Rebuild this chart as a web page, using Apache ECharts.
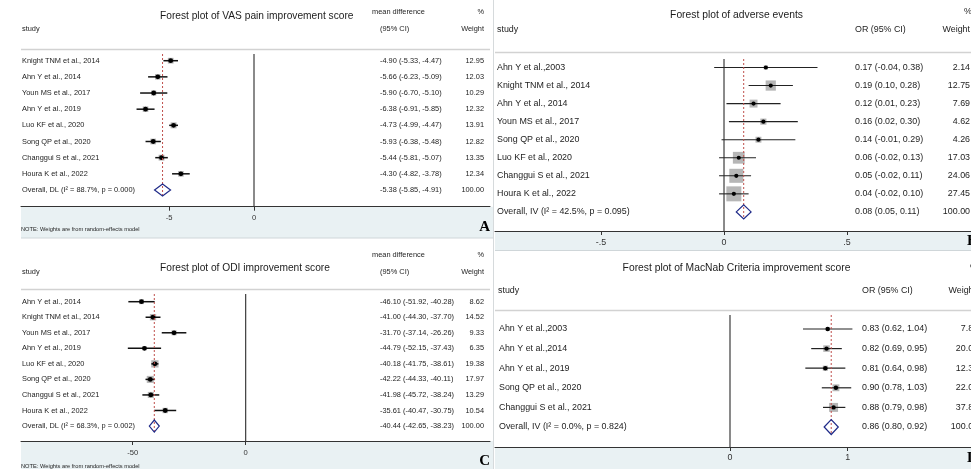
<!DOCTYPE html>
<html>
<head>
<meta charset="utf-8">
<script src="https://cdn.jsdelivr.net/npm/echarts@6/dist/echarts.min.js"></script>
<style>
  html, body { margin: 0; padding: 0; background: #ffffff; }
  #chart { width: 971px; height: 469px; }
</style>
</head>
<body>
<div id="chart"></div>
<script>
// ---- VAS pain improvement score (mean difference, random effects) ----
const vasStudies = ["Knight TNM et al., 2014", "Ahn Y et al., 2014", "Youn MS et al., 2017", "Ahn Y et al., 2019",
                    "Luo KF et al., 2020", "Song QP et al., 2020", "Changgui S et al., 2021", "Houra K et al., 2022"];
const vasMean   = [-4.90, -5.66, -5.90, -6.38, -4.73, -5.93, -5.44, -4.30];
const vasLower  = [-5.33, -6.23, -6.70, -6.91, -4.99, -6.38, -5.81, -4.82];
const vasUpper  = [-4.47, -5.09, -5.10, -5.85, -4.47, -5.48, -5.07, -3.78];
const vasWeight = [12.95, 12.03, 10.29, 12.32, 13.91, 12.82, 13.35, 12.34];
const vasPooled = [-5.38, -5.85, -4.91, 100.00];
const vasPooledLabel = "Overall, DL (I² = 88.7%, p = 0.000)";
const vasTicks = [-5, 0];

// ---- Adverse events (OR, fixed effects) ----
const aeStudies = ["Ahn Y et al.,2003", "Knight TNM et al., 2014", "Ahn Y et al., 2014", "Youn MS et al., 2017",
                   "Song QP et al., 2020", "Luo KF et al., 2020", "Changgui S et al., 2021", "Houra K et al., 2022"];
const aeOR     = [0.17, 0.19, 0.12, 0.16, 0.14, 0.06, 0.05, 0.04];
const aeLower  = [-0.04, 0.10, 0.01, 0.02, -0.01, -0.02, -0.02, -0.02];
const aeUpper  = [0.38, 0.28, 0.23, 0.30, 0.29, 0.13, 0.11, 0.10];
const aeWeight = [2.14, 12.75, 7.69, 4.62, 4.26, 17.03, 24.06, 27.45];
const aePooled = [0.08, 0.05, 0.11, 100.00];
const aePooledLabel = "Overall, IV (I² = 42.5%, p = 0.095)";
const aeTicks = [-0.5, 0, 0.5];

// ---- ODI improvement score (mean difference, random effects) ----
const odiStudies = ["Ahn Y et al., 2014", "Knight TNM et al., 2014", "Youn MS et al., 2017", "Ahn Y et al., 2019",
                    "Luo KF et al., 2020", "Song QP et al., 2020", "Changgui S et al., 2021", "Houra K et al., 2022"];
const odiMean   = [-46.10, -41.00, -31.70, -44.79, -40.18, -42.22, -41.98, -35.61];
const odiLower  = [-51.92, -44.30, -37.14, -52.15, -41.75, -44.33, -45.72, -40.47];
const odiUpper  = [-40.28, -37.70, -26.26, -37.43, -38.61, -40.11, -38.24, -30.75];
const odiWeight = [8.62, 14.52, 9.33, 6.35, 19.38, 17.97, 13.29, 10.54];
const odiPooled = [-40.44, -42.65, -38.23, 100.00];
const odiPooledLabel = "Overall, DL (I² = 68.3%, p = 0.002)";
const odiTicks = [-50, 0];

// ---- MacNab criteria improvement score (OR, fixed effects) ----
const macStudies = ["Ahn Y et al.,2003", "Ahn Y et al.,2014", "Ahn Y et al., 2019", "Song QP et al., 2020", "Changgui S et al., 2021"];
const macOR     = [0.83, 0.82, 0.81, 0.90, 0.88];
const macLower  = [0.62, 0.69, 0.64, 0.78, 0.79];
const macUpper  = [1.04, 0.95, 0.98, 1.03, 0.98];
const macWeight = [7.84, 20.03, 12.31, 22.02, 37.80];
const macPooled = [0.86, 0.80, 0.92, 100.00];
const macPooledLabel = "Overall, IV (I² = 0.0%, p = 0.824)";
const macTicks = [0, 1];

const SANS = '"Liberation Sans", Arial, Helvetica, sans-serif';
const SERIF = '"Liberation Serif", "Times New Roman", serif';
const INK = '#1c1c1c';

// Layout of the four panels (pixel geometry and styling only)
const panels = [
  { studies: vasStudies, est: vasMean, lo: vasLower, hi: vasUpper, w: vasWeight, pooled: vasPooled,
    pooledLabel: vasPooledLabel, ticks: vasTicks,
    grid: { left: 21, top: 54, width: 469, height: 152.7 }, xr: [-13.706, 13.882], yr: [-0.415, 9.035],
    font: 7.4, cols: { name: 22, ci: 380, w: 484 }, boxK: 1.6, dotR: 2.4, ciW: 1.5, ciColor: '#111',
    diamondH: 12, labelMargin: 7, tickFont: 7.6 },
  { studies: aeStudies, est: aeOR, lo: aeLower, hi: aeUpper, w: aeWeight, pooled: aePooled,
    pooledLabel: aePooledLabel, ticks: aeTicks,
    grid: { left: 495, top: 59, width: 476, height: 172 }, xr: [-0.9309, 1.004], yr: [-0.471, 9.058],
    font: 8.9, cols: { name: 497, ci: 855, w: 970 }, boxK: 2.86, dotR: 2.1, ciW: 1.1, ciColor: '#222',
    diamondH: 14, labelMargin: 7, tickFont: 8.9 },
  { studies: odiStudies, est: odiMean, lo: odiLower, hi: odiUpper, w: odiWeight, pooled: odiPooled,
    pooledLabel: odiPooledLabel, ticks: odiTicks,
    grid: { left: 21, top: 294, width: 469, height: 147 }, xr: [-99.42, 108.1], yr: [-0.4955, 8.964],
    font: 7.4, cols: { name: 22, ci: 380, w: 484 }, boxK: 1.66, dotR: 2.4, ciW: 1.5, ciColor: '#111',
    diamondH: 12, labelMargin: 8, tickFont: 7.6 },
  { studies: macStudies, est: macOR, lo: macLower, hi: macUpper, w: macWeight, pooled: macPooled,
    pooledLabel: macPooledLabel, ticks: macTicks,
    grid: { left: 495, top: 315, width: 476, height: 132 }, xr: [-1.9966, 2.0476], yr: [-0.714, 6.02],
    font: 8.9, cols: { name: 499, ci: 862, w: 978 }, boxK: 1.46, dotR: 2.2, ciW: 1.2, ciColor: '#222',
    diamondH: 15, labelMargin: 6.5, tickFont: 8.9 }
];

function fmtTick(v) {
  const s = String(v);
  return s.replace(/^(-?)0\./, '$1.');
}
function ciText(e, l, h) {
  return e.toFixed(2) + ' (' + l.toFixed(2) + ', ' + h.toFixed(2) + ')';
}

function makeRenderer(p) {
  const n = p.studies.length;
  return function (params, api) {
    const i = params.dataIndex;
    const est = api.value(0), row = api.value(1), lo = api.value(2), hi = api.value(3), wt = api.value(4);
    const c = api.coord([est, row]);
    const y = c[1];
    const xl = api.coord([lo, row])[0];
    const xh = api.coord([hi, row])[0];
    const font = { fontSize: p.font, fontFamily: SANS };
    const text = (t, x, align) => ({
      type: 'text', x: x, y: y,
      style: Object.assign({ text: t, fill: INK, align: align, verticalAlign: 'middle' }, font)
    });
    const children = [];
    if (i < n) {
      const s = p.boxK * Math.sqrt(wt);
      children.push({ type: 'rect', shape: { x: c[0] - s / 2, y: y - s / 2, width: s, height: s },
                      style: { fill: '#b6b6b6' } });
      children.push({ type: 'line', shape: { x1: xl, y1: y, x2: xh, y2: y },
                      style: { stroke: p.ciColor, lineWidth: p.ciW } });
      children.push({ type: 'circle', shape: { cx: c[0], cy: y, r: p.dotR }, style: { fill: '#000' } });
      children.push(text(p.studies[i], p.cols.name, 'left'));
    } else {
      // zero reference and pooled-estimate line
      const z0 = api.coord([0, p.yr[0]]);
      const z1 = api.coord([0, p.yr[1]]);
      children.push({ type: 'line', shape: { x1: z0[0], y1: z0[1], x2: z1[0], y2: z1[1] },
                      style: { stroke: '#2a2a2a', lineWidth: 1.1 } });
      const d0 = api.coord([est, p.yr[0]]);
      children.push({ type: 'line', shape: { x1: d0[0], y1: d0[1], x2: c[0], y2: y + p.diamondH / 2 },
                      style: { stroke: '#c0504d', lineWidth: 1, lineDash: [2, 2] } });
      const h = p.diamondH / 2;
      children.push({ type: 'polygon',
                      shape: { points: [[xl, y], [c[0], y - h], [xh, y], [c[0], y + h]] },
                      style: { fill: 'none', stroke: '#1f2a88', lineWidth: 1.2 } });
      children.push(text(p.pooledLabel, p.cols.name, 'left'));
    }
    children.push(text(ciText(est, lo, hi), p.cols.ci, 'left'));
    children.push(text(wt.toFixed(2), p.cols.w, 'right'));
    return { type: 'group', children: children };
  };
}

const grids = [], xAxes = [], yAxes = [], series = [];
panels.forEach((p, k) => {
  grids.push(Object.assign({ outerBoundsMode: 'none', containLabel: false }, p.grid));
  xAxes.push({
    gridIndex: k, type: 'value', min: p.xr[0], max: p.xr[1], position: 'bottom', z: 10,
    axisLine: { show: true, onZero: false, lineStyle: { color: '#333', width: 1 } },
    axisTick: { show: true, customValues: p.ticks, length: 4, lineStyle: { color: '#333', width: 1 } },
    axisLabel: { show: true, customValues: p.ticks, formatter: fmtTick, color: '#333',
                 fontSize: p.tickFont, fontFamily: SANS, margin: p.labelMargin },
    splitLine: { show: false }
  });
  yAxes.push({ gridIndex: k, type: 'value', min: p.yr[0], max: p.yr[1], inverse: true, show: false,
               splitLine: { show: false } });
  const data = p.studies.map((s, i) => [p.est[i], i, p.lo[i], p.hi[i], p.w[i]]);
  data.push([p.pooled[0], p.studies.length, p.pooled[1], p.pooled[2], p.pooled[3]]);
  series.push({
    type: 'custom', xAxisIndex: k, yAxisIndex: k, coordinateSystem: 'cartesian2d',
    encode: { x: 0, y: 1 }, silent: true, clip: false, z: 5,
    renderItem: makeRenderer(p), data: data
  });
});

// Static framing: header rules, shaded axis bands, headings and notes
function hline(x1, x2, y, color, w) {
  return { type: 'line', silent: true, z: 1, shape: { x1: x1, y1: y, x2: x2, y2: y }, style: { stroke: color, lineWidth: w } };
}
function vline(x, y1, y2, color, w) {
  return { type: 'line', silent: true, z: 1, shape: { x1: x, y1: y1, x2: x, y2: y2 }, style: { stroke: color, lineWidth: w } };
}
function band(x, y, w, h) {
  return { type: 'rect', silent: true, z: -5, shape: { x: x, y: y, width: w, height: h }, style: { fill: '#e9f1f3' } };
}
function label(t, x, y, size, align, extra) {
  return { type: 'text', silent: true, z: 20, x: x, y: y,
           style: Object.assign({ text: t, fill: INK, fontSize: size, fontFamily: SANS, align: align || 'left', verticalAlign: 'middle' }, extra || {}) };
}

const graphics = [
  band(21, 206.7, 472, 31.3), band(21, 441, 472, 28), band(495, 231, 476, 19.5), band(495, 447, 476, 22),
  hline(21, 493, 238, '#cfd6d9', 1),
  hline(495, 971, 250.5, '#cfd6d9', 1),
  vline(493.5, 0, 469, '#d6dadc', 1),
  hline(21, 490, 49.5, '#d2d2d2', 1.3), hline(21, 490, 289.5, '#d2d2d2', 1.3),
  hline(495, 971, 52.5, '#d2d2d2', 1.3), hline(495, 971, 310.5, '#d2d2d2', 1.3),

  label('Forest plot of VAS pain improvement score', 160, 16, 10.2),
  label('study', 22, 29, 7.4), label('mean difference', 372, 12, 7.4), label('(95% CI)', 380, 29, 7.4),
  label('%', 484, 12, 7.4, 'right'), label('Weight', 484, 29, 7.4, 'right'),
  label('NOTE: Weights are from random-effects model', 21, 229, 5.7),
  label('A', 490, 227, 15, 'right', { fontFamily: SERIF, fontWeight: 'bold', fill: '#000' }),

  label('Forest plot of ODI improvement score', 160, 268, 10.2),
  label('study', 22, 272, 7.4), label('mean difference', 372, 255, 7.4), label('(95% CI)', 380, 272, 7.4),
  label('%', 484, 255, 7.4, 'right'), label('Weight', 484, 272, 7.4, 'right'),
  label('NOTE: Weights are from random-effects model', 21, 466, 5.7),
  label('C', 490, 461, 15, 'right', { fontFamily: SERIF, fontWeight: 'bold', fill: '#000' }),

  label('Forest plot of adverse events', 736.5, 15, 10.3, 'center'),
  label('study', 497, 30, 8.9), label('OR (95% CI)', 855, 30, 8.9),
  label('%', 972, 12, 8.9, 'right'), label('Weight', 970, 30, 8.9, 'right'),
  label('B', 967, 241, 15, 'left', { fontFamily: SERIF, fontWeight: 'bold', fill: '#000' }),

  label('Forest plot of MacNab Criteria improvement score', 736.5, 268, 10.3, 'center'),
  label('study', 498, 291, 8.9), label('OR (95% CI)', 862, 291, 8.9),
  label('%', 978, 268, 8.9, 'right'), label('Weight', 976, 291, 8.9, 'right'),
  label('D', 967, 458, 15, 'left', { fontFamily: SERIF, fontWeight: 'bold', fill: '#000' })
];

const chart = echarts.init(document.getElementById('chart'), null, { renderer: 'canvas' });
chart.setOption({
  animation: false,
  backgroundColor: '#ffffff',
  grid: grids,
  xAxis: xAxes,
  yAxis: yAxes,
  series: series,
  graphic: { elements: graphics }
});
</script>
</body>
</html>
